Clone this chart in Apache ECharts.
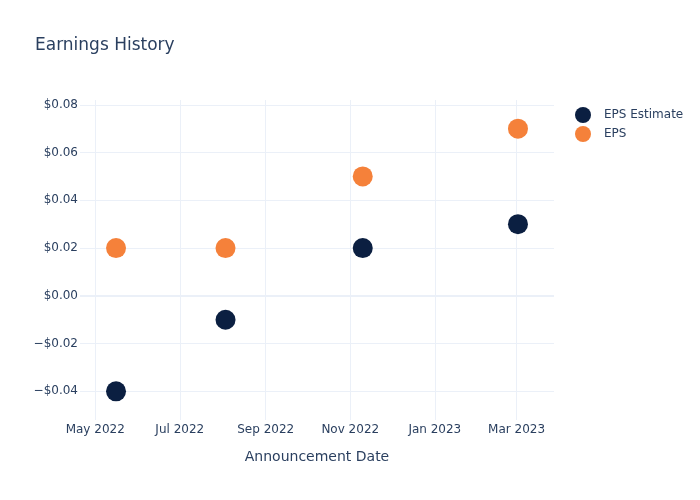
<!DOCTYPE html>
<html>
<head>
<meta charset="utf-8">
<script src="https://cdn.jsdelivr.net/npm/echarts@6/dist/echarts.min.js"></script>
<style>html,body{margin:0;padding:0;background:#fff;}#chart{width:700px;height:500px;}</style>
</head>
<body>
<div id="chart"></div>
<script>
const announcementDates = ['2022-05-16', '2022-08-03', '2022-11-10', '2023-03-02'];
const epsEstimate = [-0.04, -0.01, 0.02, 0.03];
const epsActual = [0.02, 0.02, 0.05, 0.07];
const xTickDates = ['2022-05-01', '2022-07-01', '2022-09-01', '2022-11-01', '2023-01-01', '2023-03-01'];
const yTickValues = [-0.04, -0.02, 0, 0.02, 0.04, 0.06, 0.08];
const monthNames = ['Jan','Feb','Mar','Apr','May','Jun','Jul','Aug','Sep','Oct','Nov','Dec'];

const ts = s => Date.parse(s + 'T00:00:00Z');
const xTicks = xTickDates.map(ts);
const FONT = 'DejaVu Sans';
const TXT = '#2a3f5f';
const GRID = '#EBF0F8';

const chart = echarts.init(document.getElementById('chart'), null, {renderer: 'canvas'});
chart.setOption({
  animation: false,
  backgroundColor: '#fff',
  textStyle: {fontFamily: FONT},
  title: {
    text: 'Earnings History',
    left: 35, top: 37, padding: 0,
    textStyle: {fontFamily: FONT, fontSize: 17, fontWeight: 'normal', color: TXT}
  },
  legend: {
    orient: 'vertical',
    left: 570, top: 102,
    itemWidth: 32, itemHeight: 16, itemGap: 3,
    icon: 'circle',
    textStyle: {fontFamily: FONT, fontSize: 12, color: TXT},
    data: ['EPS Estimate', 'EPS']
  },
  grid: {left: 80, right: 146, top: 100, bottom: 80, containLabel: false},
  xAxis: {
    type: 'value',
    min: ts('2022-04-20'),
    max: ts('2023-03-28'),
    name: 'Announcement Date',
    nameLocation: 'middle',
    nameGap: 30,
    nameTextStyle: {fontFamily: FONT, fontSize: 14, color: TXT},
    axisLine: {show: false},
    axisTick: {show: false, customValues: xTicks},
    axisLabel: {
      customValues: xTicks,
      margin: 4,
      fontFamily: FONT, fontSize: 12, color: TXT,
      formatter: v => { const d = new Date(v); return monthNames[d.getUTCMonth()] + ' ' + d.getUTCFullYear(); }
    },
    splitLine: {show: true, lineStyle: {color: GRID, width: 1}}
  },
  yAxis: {
    type: 'value',
    min: -0.052,
    max: 0.082,
    axisLine: {show: false},
    axisTick: {show: false, customValues: yTickValues},
    axisLabel: {
      customValues: yTickValues,
      margin: 2,
      fontFamily: FONT, fontSize: 12, color: TXT,
      formatter: v => (v < -1e-9 ? '\u2212' : '') + '$' + Math.abs(v).toFixed(2)
    },
    splitLine: {show: true, lineStyle: {color: GRID, width: 1}}
  },
  series: [
    {
      name: 'EPS Estimate',
      type: 'scatter',
      symbol: 'circle',
      symbolSize: 20,
      itemStyle: {color: '#0B1F41', opacity: 1},
      data: announcementDates.map((d, i) => [ts(d), epsEstimate[i]]),
      markLine: {
        silent: true,
        symbol: 'none',
        label: {show: false},
        lineStyle: {color: GRID, width: 2, type: 'solid'},
        data: [{yAxis: 0}],
        z: 1
      },
      z: 3
    },
    {
      name: 'EPS',
      type: 'scatter',
      symbol: 'circle',
      symbolSize: 20,
      itemStyle: {color: '#F5813A', opacity: 1},
      data: announcementDates.map((d, i) => [ts(d), epsActual[i]]),
      z: 3
    }
  ]
});
</script>
</body>
</html>
